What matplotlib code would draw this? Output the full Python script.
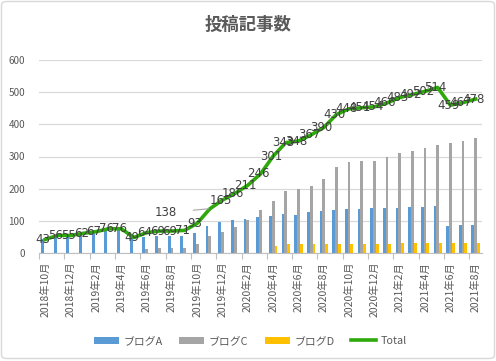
import matplotlib
matplotlib.use("Agg")
import matplotlib.pyplot as plt
from matplotlib.patches import FancyBboxPatch
import numpy as np

plt.rcParams['font.family'] = ['Noto Sans CJK JP', 'DejaVu Sans']

months = []
y, m = 2018, 10
for _ in range(35):
    months.append(f"{y}年{m}月")
    m += 1
    if m > 12:
        m = 1
        y += 1

blog_a = [43, 56, 55, 62, 67, 76, 76, 49, 51, 54, 54, 55, 63, 84, 98, 103, 107, 112,
          117, 122, 120, 129, 131, 134, 136, 137, 139, 140, 141, 142, 143, 146, 86, 88, 89]
blog_c = [0, 0, 0, 0, 0, 0, 0, 0, 13, 15, 15, 16, 30, 54, 67, 83, 104, 134,
          161, 192, 199, 209, 230, 267, 283, 285, 286, 297, 310, 318, 327, 336, 341, 347, 357]
blog_d = [0, 0, 0, 0, 0, 0, 0, 0, 0, 0, 0, 0, 0, 0, 0, 0, 0, 0,
          23, 29, 29, 29, 29, 29, 29, 29, 29, 29, 32, 32, 32, 32, 32, 32, 32]
total = [43, 56, 55, 62, 67, 76, 76, 49, 64, 69, 69, 71, 93, 138, 165, 186, 211, 246,
         301, 343, 348, 367, 390, 430, 448, 451, 454, 466, 483, 492, 502, 514, 459, 467, 478]

W, H = 496, 361
fig = plt.figure(figsize=(W / 100, H / 100), dpi=100)
fig.patch.set_facecolor('white')
border = FancyBboxPatch((1.5 / W, 2.5 / H), (W - 3) / W, (H - 4) / H,
                        boxstyle="round,pad=0,rounding_size=0.01",
                        transform=fig.transFigure, facecolor='none',
                        edgecolor='#D9D9D9', linewidth=1.0, zorder=-10)
fig.patches.append(border)

left, right, top, bottom = 39, 482, 59.7, 253.3
ax = fig.add_axes([left / W, (H - bottom) / H, (right - left) / W, (bottom - top) / H])
ax.set_facecolor('none')

x = np.arange(len(months))
bw = 0.22
ha_ = ax.bar(x - bw, blog_a, bw, color='#5B9BD5', label='ブログA', zorder=2)
hc_ = ax.bar(x, blog_c, bw, color='#A5A5A5', label='ブログC', zorder=2)
hd_ = ax.bar(x + bw, blog_d, bw, color='#FFC000', label='ブログD', zorder=2)
ht_, = ax.plot(x, total, color='#2EA80A', lw=2.6, label='Total', zorder=3,
               solid_joinstyle='round')

for i, v in enumerate(total):
    if i == 13:
        ax.annotate(str(v), xy=(i - 0.1, v), xytext=(-31, -3), textcoords='offset points',
                    ha='center', va='center', fontsize=8.5, color='#404040',
                    arrowprops=dict(arrowstyle='-', color='#A6A6A6', lw=0.8,
                                    shrinkA=10, shrinkB=0), zorder=4,
                    family=['DejaVu Sans'])
        continue
    ax.annotate(str(v), xy=(i, v), xytext=(-1.5, 0), textcoords='offset points',
                ha='center', va='center', fontsize=8.5, color='#404040', zorder=4,
                family=['DejaVu Sans'])

ax.set_xlim(-0.5, len(months) - 0.5)
ax.set_ylim(0, 600)
ax.set_yticks(range(0, 601, 100))
ax.yaxis.grid(True, color='#D9D9D9', lw=0.9, zorder=0)
ax.set_axisbelow(True)
for s in ['top', 'right', 'left']:
    ax.spines[s].set_visible(False)
ax.spines['bottom'].set_color('#BFBFBF')
ax.tick_params(axis='y', length=0, labelsize=7.2, labelcolor='#595959', pad=10)

ax.set_xticks(x[::2])
ax.set_xticklabels(months[::2], rotation=90, fontsize=7.5, color='#595959')
ax.tick_params(axis='x', which='major', length=0, pad=6)
ax.set_xticks(np.arange(-0.5, len(months), 2), minor=True)
ax.tick_params(axis='x', which='minor', length=4, color='#BFBFBF', width=0.8)

fig.text(0.5, (H - 25) / H, '投稿記事数', ha='center', va='center', fontsize=12.5,
         fontweight='bold', color='#595959')

leg = fig.legend([ha_, hc_, hd_, ht_], ['ブログA', 'ブログC', 'ブログD', 'Total'],
                 loc='center', bbox_to_anchor=(0.505, (H - 341) / H), ncol=4, frameon=False,
                 fontsize=7.8, handlelength=2.3, handleheight=0.65, columnspacing=1.5,
                 handletextpad=0.45, labelcolor='#595959')
leg.legend_handles[3].set_linewidth(2.6)

fig.savefig('out.png', dpi=100)
